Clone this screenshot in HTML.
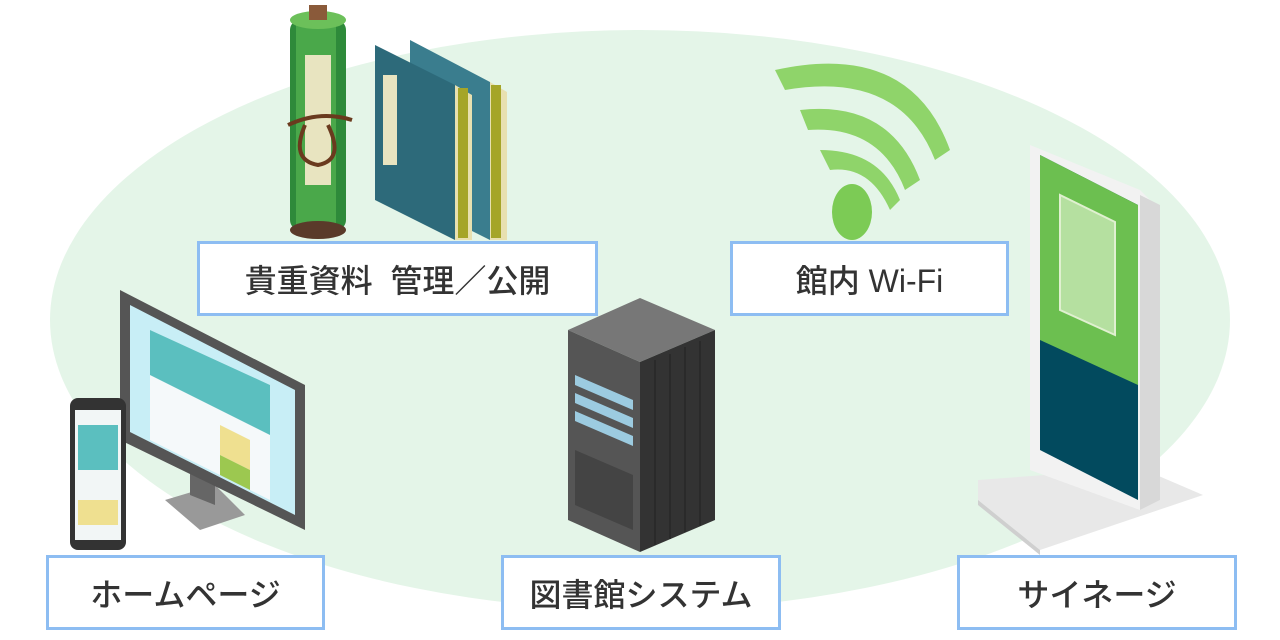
<!DOCTYPE html>
<html><head><meta charset="utf-8"><style>
html,body{margin:0;padding:0;background:#fff;width:1280px;height:640px;overflow:hidden;position:relative}
.lb{position:absolute;box-sizing:border-box;border:3px solid #8dbdf2;background:#fff;display:flex;align-items:center;justify-content:center;font-family:"Liberation Sans","Noto Sans CJK JP",sans-serif;font-size:32px;color:#333;font-weight:500;white-space:pre}
svg{position:absolute;left:0;top:0}
</style></head><body>
<svg width="1280" height="640" viewBox="0 0 1280 640">
<ellipse cx="640" cy="320" rx="590" ry="290" fill="#e4f5e8"/>
<!-- scroll -->
<rect x="290" y="20" width="56" height="210" rx="10" fill="#2e8a3a"/>
<rect x="296" y="20" width="40" height="210" fill="#4aa84a"/>
<ellipse cx="318" cy="20" rx="28" ry="9" fill="#6cc05a"/>
<rect x="309" y="5" width="18" height="15" fill="#8a5a3a"/>
<ellipse cx="318" cy="230" rx="28" ry="9" fill="#5a3a2a"/>
<rect x="305" y="55" width="26" height="130" fill="#e8e4c0"/>
<path d="M288 125 Q320 110 352 120 M305 125 Q290 160 318 165 Q345 160 328 125" stroke="#6a3a1e" stroke-width="4" fill="none"/>
<!-- books -->
<polygon points="410,40 490,82 490,240 410,200" fill="#3a7d8e"/>
<polygon points="490,82 507,92 507,240 490,240" fill="#e8e0b0"/>
<rect x="491" y="85" width="10" height="153" fill="#a5a528"/>
<polygon points="375,45 455,85 455,240 375,200" fill="#2d6a7a"/>
<polygon points="455,85 472,95 472,240 455,240" fill="#e8e0b0"/>
<rect x="458" y="88" width="10" height="150" fill="#a5a528"/>
<rect x="383" y="75" width="14" height="90" fill="#e8e4c0"/>
<!-- wifi -->
<g fill="#8fd46a">
<ellipse cx="852" cy="212" rx="20" ry="28" fill="#7ccb55"/>
<path d="M820 150 Q880 150 900 200 L890 210 Q870 165 830 170 Z"/>
<path d="M800 110 Q890 100 920 180 L905 190 Q880 125 808 130 Z"/>
<path d="M775 70 Q910 40 950 150 L935 160 Q900 70 785 90 Z"/>
</g>
<!-- signage -->
<polygon points="978,480 1140,468 1203,495 1040,550 978,500" fill="#e8e8e8"/>
<polygon points="978,500 1040,550 1040,555 978,505" fill="#cfcfcf"/>
<polygon points="1030,145 1140,190 1160,210 1160,500 1140,510 1030,470" fill="#f2f2f2"/>
<polygon points="1140,195 1160,205 1160,500 1140,510" fill="#d8d8d8"/>
<polygon points="1040,155 1138,205 1138,500 1040,450" fill="#024a5e"/>
<polygon points="1040,155 1138,205 1138,385 1040,340" fill="#6cbf50"/>
<polygon points="1060,195 1115,222 1115,335 1060,310" fill="#b5e0a0" stroke="#e0f0d0" stroke-width="2"/>
<!-- monitor -->
<polygon points="165,500 215,485 245,515 200,530" fill="#999"/>
<polygon points="190,460 215,470 215,505 190,495" fill="#666"/>
<polygon points="120,290 305,385 305,530 120,440" fill="#555"/>
<polygon points="130,305 295,390 295,515 130,432" fill="#c8eef6"/>
<polygon points="150,330 270,385 270,500 150,440" fill="#f5f9fa"/>
<polygon points="150,330 270,385 270,435 150,375" fill="#5bbfbf"/>
<polygon points="220,425 250,440 250,470 220,455" fill="#efe090"/>
<polygon points="220,455 250,470 250,490 220,475" fill="#9cc850"/>
<!-- phone -->
<rect x="70" y="398" width="56" height="152" rx="8" fill="#333"/>
<rect x="75" y="410" width="46" height="130" fill="#f2f6f6"/>
<rect x="78" y="425" width="40" height="45" fill="#5bbfbf"/>
<rect x="78" y="500" width="40" height="25" fill="#efe090"/>
<!-- server -->
<polygon points="568,330 640,298 715,330 640,362" fill="#777"/>
<polygon points="568,330 640,362 640,552 568,520" fill="#555"/>
<polygon points="640,362 715,330 715,520 640,552" fill="#333"/>
<g fill="#9ccbe0"><polygon points="575,375 633,400 633,410 575,385"/><polygon points="575,393 633,418 633,428 575,403"/><polygon points="575,411 633,436 633,446 575,421"/></g>
<polygon points="575,450 633,475 633,530 575,505" fill="#444"/>
<g stroke="#2a2a2a" stroke-width="2"><line x1="655" y1="360" x2="655" y2="545"/><line x1="670" y1="354" x2="670" y2="539"/><line x1="685" y1="347" x2="685" y2="532"/><line x1="700" y1="341" x2="700" y2="526"/></g>
</svg>
<div class="lb" style="left:197px;top:241px;width:401px;height:75px">貴重資料  管理／公開</div>
<div class="lb" style="left:730px;top:241px;width:279px;height:75px">館内 Wi-Fi</div>
<div class="lb" style="left:46px;top:555px;width:279px;height:75px">ホームページ</div>
<div class="lb" style="left:501px;top:555px;width:280px;height:75px">図書館システム</div>
<div class="lb" style="left:957px;top:555px;width:280px;height:75px">サイネージ</div>
</body></html>
